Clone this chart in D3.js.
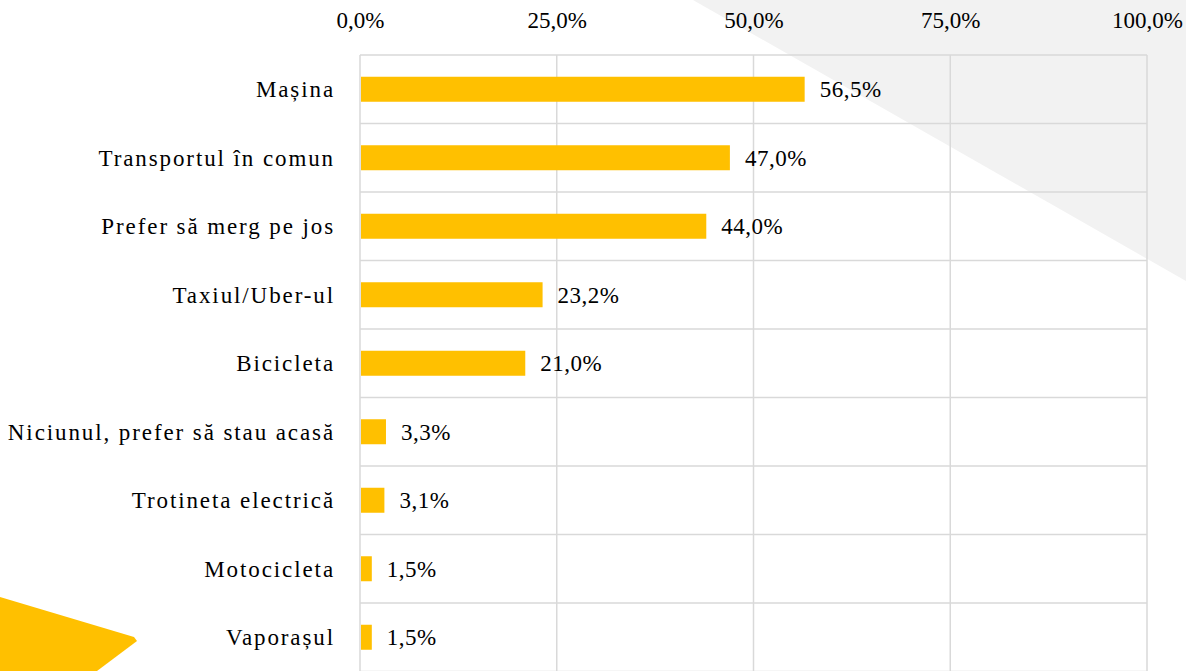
<!DOCTYPE html>
<html>
<head>
<meta charset="utf-8">
<script src="https://cdn.jsdelivr.net/npm/d3@7"></script>
<style>
  html, body { margin: 0; padding: 0; background: #fff; }
  svg { display: block; }
  text { font-family: "Liberation Serif", "Times New Roman", serif; fill: #000; }
</style>
</head>
<body>
<svg id="chart" width="1186" height="671"></svg>
<script>
const categories = [
  "Mașina",
  "Transportul în comun",
  "Prefer să merg pe jos",
  "Taxiul/Uber-ul",
  "Bicicleta",
  "Niciunul, prefer să stau acasă",
  "Trotineta electrică",
  "Motocicleta",
  "Vaporașul"
];
const values = [56.5, 47.0, 44.0, 23.2, 21.0, 3.3, 3.1, 1.5, 1.5];
const tickValues = [0, 25, 50, 75, 100];

const W = 1186, H = 671;
const margin = { left: 360, right: 39, top: 55 };
const rowH = 68.5;
const svg = d3.select("#chart");

// decorative background shapes
svg.append("polygon")
  .attr("points", [[693, 0], [1186, 0], [1186, 281]].map(p => p.join(",")).join(" "))
  .attr("fill", "#f2f2f2");
svg.append("polygon")
  .attr("points", [[0, 597], [134, 637], [137, 641], [97, 671], [0, 671]].map(p => p.join(",")).join(" "))
  .attr("fill", "#FFC000");

const x = d3.scaleLinear().domain([0, 100]).range([margin.left, W - margin.right]);
const y = d3.scaleBand().domain(categories)
  .range([margin.top, margin.top + rowH * categories.length])
  .paddingInner(0).paddingOuter(0);

const fmt = v => d3.format(".1f")(v).replace(".", ",") + "%";
const fs = 23;

// horizontal grid lines (row boundaries)
const hLines = categories.map(c => y(c)).concat([y.range()[1]]);
svg.append("g").selectAll("line").data(hLines).join("line")
  .attr("x1", x(0)).attr("x2", x(100))
  .attr("y1", d => d).attr("y2", d => d)
  .attr("stroke", "#d9d9d9").attr("stroke-width", 1.5);

// vertical grid lines
svg.append("g").selectAll("line").data(tickValues).join("line")
  .attr("x1", d => x(d)).attr("x2", d => x(d))
  .attr("y1", margin.top).attr("y2", y.range()[1])
  .attr("stroke", "#d9d9d9").attr("stroke-width", 1.5);

// top axis labels
const axis = d3.axisTop(x).tickValues(tickValues).tickFormat(fmt).tickSize(0).tickPadding(0);
const gAxis = svg.append("g").attr("transform", "translate(0,28)").call(axis);
gAxis.select(".domain").remove();
gAxis.selectAll("text").attr("font-size", fs).attr("font-family", null).attr("fill", "#000");

// bars
const barH = 25;
svg.append("g").selectAll("rect").data(values).join("rect")
  .attr("x", x(0) + 1)
  .attr("y", (d, i) => y(categories[i]) + y.bandwidth() / 2 - barH / 2)
  .attr("width", d => x(d) - x(0) - 1)
  .attr("height", barH)
  .attr("fill", "#FFC000");

// value labels
svg.append("g").selectAll("text").data(values).join("text")
  .attr("x", d => x(d) + 15)
  .attr("y", (d, i) => y(categories[i]) + y.bandwidth() / 2)
  .attr("dy", "0.35em")
  .attr("font-size", fs)
  .attr("letter-spacing", 0.5)
  .text(d => fmt(d));

// category labels
svg.append("g").selectAll("text").data(categories).join("text")
  .attr("x", 335)
  .attr("y", d => y(d) + y.bandwidth() / 2)
  .attr("dy", "0.35em")
  .attr("text-anchor", "end")
  .attr("font-size", fs)
  .attr("letter-spacing", 1.9)
  .text(d => d);
</script>
</body>
</html>
